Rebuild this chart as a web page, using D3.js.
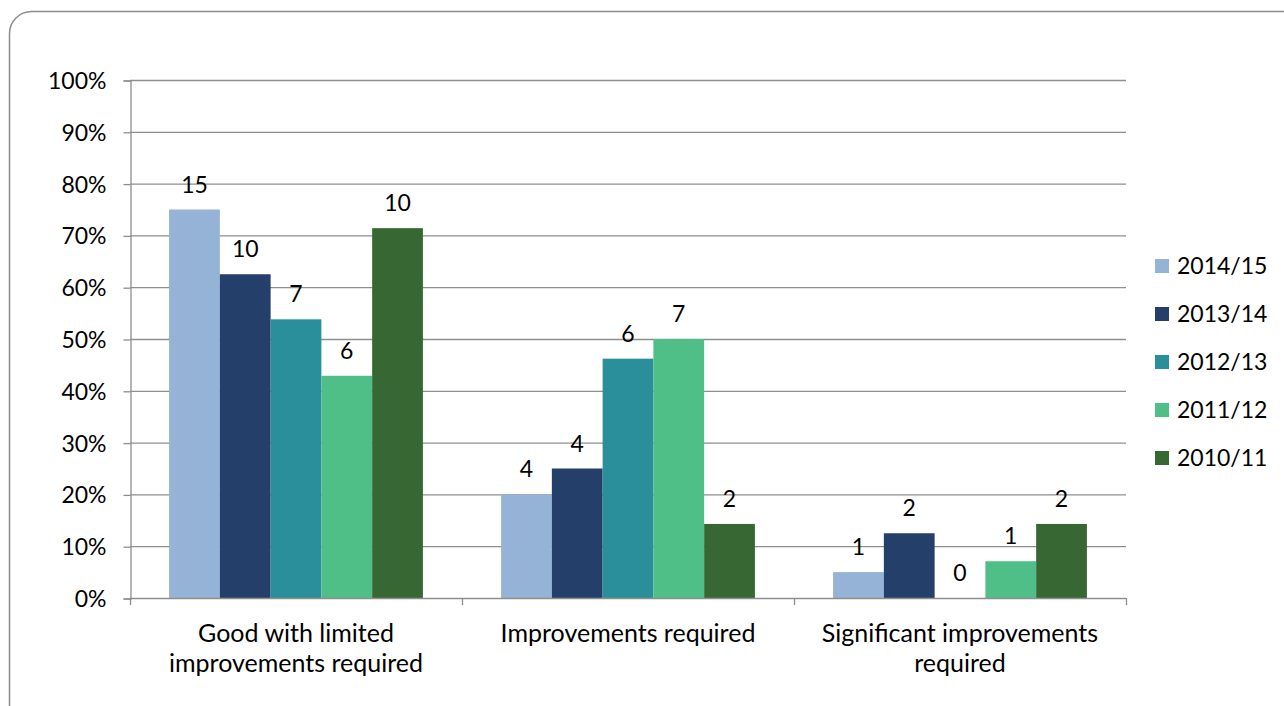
<!DOCTYPE html>
<html><head><meta charset="utf-8">
<script src="https://cdn.jsdelivr.net/npm/d3@7"></script>
<style>html,body{margin:0;padding:0;background:#fff;}svg{display:block;font-family:Lato,"Open Sans",sans-serif;}</style>
</head><body>
<svg id="c" width="1284" height="706"></svg>
<script>
const categories = [["Good with limited","improvements required"],["Improvements required"],["Significant improvements","required"]];
const seriesNames = ["2014/15","2013/14","2012/13","2011/12","2010/11"];
const colors = ["#95B3D7","#243F69","#2A8F9B","#4FBF87","#376833"];
// percentage values per series (index = category)
const v2014 = [75.0, 20.0, 5.0];
const v2013 = [62.5, 25.0, 12.5];
const v2012 = [53.8, 46.2, 0];
const v2011 = [42.9, 50.0, 7.1];
const v2010 = [71.4, 14.3, 14.3];
const c2014 = [15, 4, 1];
const c2013 = [10, 4, 2];
const c2012 = [7, 6, 0];
const c2011 = [6, 7, 1];
const c2010 = [10, 2, 2];
const yTicks = [0,10,20,30,40,50,60,70,80,90,100];

const values = [v2014, v2013, v2012, v2011, v2010];
const counts = [c2014, c2013, c2012, c2011, c2010];
const FS = 23;

const svg = d3.select("#c");
svg.append("rect").attr("x",9.5).attr("y",11.5).attr("width",1300).attr("height",730)
  .attr("rx",22).attr("fill","none").attr("stroke","#8c8c8c").attr("stroke-width",1.5);

const pL=130, pR=1126, pT=80, pB=598;
const y = d3.scaleLinear().domain([0,100]).range([pB, pT]);
const x0 = d3.scaleBand().domain(d3.range(categories.length)).range([pL,pR]).paddingInner(0).paddingOuter(0);
const x1 = d3.scaleBand().domain(d3.range(seriesNames.length)).range([0,x0.bandwidth()]).paddingOuter(0.77).paddingInner(0);

const grid = "#8e8e8e";
svg.append("g").selectAll("line").data(yTicks.filter(d=>d>0)).join("line")
  .attr("x1",pL).attr("x2",pR).attr("y1",d=>y(d)+0.5).attr("y2",d=>y(d)+0.5)
  .attr("stroke",grid).attr("stroke-width",1.3);

const yAxis = d3.axisLeft(y).tickValues(yTicks).tickFormat(d=>d+"%").tickSize(7).tickPadding(17);
const gy = svg.append("g").attr("transform",`translate(${pL+0.5},0.5)`).call(yAxis);
gy.select(".domain").attr("stroke",grid).attr("stroke-width",1.3);
gy.selectAll(".tick line").attr("stroke",grid).attr("stroke-width",1.3);
gy.selectAll(".tick text").attr("font-size",FS).attr("fill","#000").attr("font-family","Lato,'Open Sans',sans-serif").attr("dy","0.35em");

const bars = svg.append("g");
seriesNames.forEach((s,si)=>{
  categories.forEach((c,ci)=>{
    const v = values[si][ci];
    const bx = x0(ci)+x1(si);
    bars.append("rect").attr("x",bx).attr("y",y(v)).attr("width",x1.bandwidth()).attr("height",pB-y(v))
      .attr("fill",colors[si]);
    bars.append("text").attr("x",bx+x1.bandwidth()/2).attr("y",y(v)-17)
      .attr("text-anchor","middle").attr("font-size",FS).attr("fill","#000").text(counts[si][ci]);
  });
});

const gx = svg.append("g");
gx.append("line").attr("x1",pL).attr("x2",pR).attr("y1",pB+0.5).attr("y2",pB+0.5).attr("stroke",grid).attr("stroke-width",1.3);
const xt = d3.range(categories.length+1).map(i=> i<categories.length ? x0(i) : pR);
gx.selectAll("line.t").data(xt).join("line").attr("class","t")
  .attr("x1",d=>d+0.5).attr("x2",d=>d+0.5).attr("y1",pB).attr("y2",pB+7).attr("stroke",grid).attr("stroke-width",1.3);
categories.forEach((c,ci)=>{
  const cx = x0(ci)+x0.bandwidth()/2;
  const t = gx.append("text").attr("x",cx).attr("y",642).attr("text-anchor","middle")
    .attr("font-size",25).attr("fill","#000");
  c.forEach((line,li)=>t.append("tspan").attr("x",cx).attr("dy",li===0?0:30).text(line));
});

const lg = svg.append("g");
seriesNames.forEach((s,i)=>{
  const ly = 266 + i*48;
  lg.append("rect").attr("x",1155).attr("y",ly-7).attr("width",14).attr("height",14).attr("fill",colors[i]);
  lg.append("text").attr("x",1177).attr("y",ly).attr("dy","0.35em").attr("font-size",FS).attr("fill","#000").text(s);
});
</script>
</body></html>
